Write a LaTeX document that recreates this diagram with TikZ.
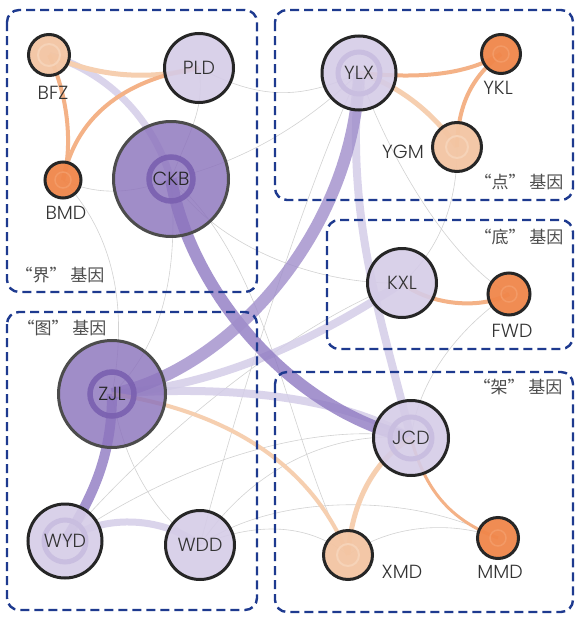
\documentclass[tikz,border=0pt]{standalone}
\usepackage{fontspec}
\newfontfamily\labfont{Poppins Light}
\newfontfamily\cjkfont{Noto Sans CJK SC}
\pgfdeclarelayer{bglayer}
\pgfdeclarelayer{edgelayer}
\pgfsetlayers{bglayer,edgelayer,main}
\definecolor{lav}{HTML}{D5CCE7}
\definecolor{purp}{HTML}{8C74BD}
\definecolor{purpring}{HTML}{7A60B0}
\definecolor{lavring}{HTML}{C9BEE0}
\definecolor{peach}{HTML}{F3C5A3}
\definecolor{peachring}{HTML}{F6D3B8}
\definecolor{orng}{HTML}{F0864A}
\definecolor{orngring}{HTML}{F39A66}
\definecolor{navy}{HTML}{1E3A8F}
\definecolor{edgep}{HTML}{8F7AC2}
\definecolor{edgepale}{HTML}{D4CDE8}
\definecolor{edgeor}{HTML}{F4B287}
\definecolor{edgepe}{HTML}{F6CFB0}
\definecolor{thinc}{HTML}{D2D2D2}
\definecolor{txt}{HTML}{333333}
\begin{document}
\begin{tikzpicture}[x=1pt,y=-1pt,
  nbase/.style={circle,inner sep=0pt,line width=3pt,text opacity=1,text=txt,
    font=\labfont\fontsize{19}{19}\selectfont},
  nlight/.style={nbase,draw=black!85,fill=lav,fill opacity=0.9},
  nlightring/.style={nlight,path picture={\draw[lavring,line width=5pt]
    (path picture bounding box.center) circle (21pt);}},
  npurple/.style={nbase,draw=black!70,fill=purp,fill opacity=0.82,text=black!85,
    path picture={\draw[purpring,line width=5.5pt,opacity=0.9]
    (path picture bounding box.center) circle (22pt);}},
  npeach/.style={nbase,draw=black!85,fill=peach,fill opacity=0.95,
    path picture={\draw[peachring,line width=2pt]
    (path picture bounding box.center) circle (11pt);}},
  norange/.style={nbase,draw=black!85,fill=orng,fill opacity=0.95,
    path picture={\draw[orngring,line width=1.5pt]
    (path picture bounding box.center) circle (8pt);}},
  tlab/.style={inner sep=0pt,text=txt,font=\labfont\fontsize{19}{19}\selectfont},
  glab/.style={inner sep=0pt,text=black!70,font=\cjkfont\fontsize{17}{17}\selectfont},
  gbox/.style={draw=navy,line width=2.4pt,dash pattern=on 9pt off 5pt,rounded corners=12pt},
  ethickp/.style={draw=edgep,line width=12pt,opacity=0.8},
  epale/.style={draw=edgepale,line width=8pt,opacity=0.85},
  eorange/.style={draw=edgeor,line width=4pt},
  epeach/.style={draw=edgepe,line width=5pt},
  ethin/.style={draw=thinc,line width=0.6pt}
]
\begin{pgfonlayer}{bglayer}
\fill[white] (0,0) rectangle (588,621);
\end{pgfonlayer}
\useasboundingbox (0,0) rectangle (588,621);

% group boxes
\draw[gbox] (7,10) rectangle (257,292);
\draw[gbox] (275,10) rectangle (573,200);
\draw[gbox] (327,220) rectangle (573,349);
\draw[gbox] (7,312) rectangle (257,610);
\draw[gbox] (275,372) rectangle (573,612);

% group labels
\node[glab] (gjie) at (60,275) {“界” 基因};
\node[glab] (gdian) at (519,182) {“点” 基因};
\node[glab] (gdi) at (519,237) {“底” 基因};
\node[glab] (gtu) at (62,328) {“图” 基因};
\node[glab] (gjia) at (518,387) {“架” 基因};

% nodes
\node[npeach,minimum size=41pt] (BFZ) at (49,55) {};
\node[nlight,minimum size=69pt] (PLD) at (199,68) {PLD};
\node[norange,minimum size=36pt] (BMD) at (63,180) {};
\node[npurple,minimum size=115pt] (CKB) at (171,179) {CKB};
\node[nlightring,minimum size=74pt] (YLX) at (359,73) {YLX};
\node[norange,minimum size=39pt] (YKL) at (501,54) {};
\node[npeach,minimum size=49pt] (YGM) at (457,147) {};
\node[nlight,minimum size=69pt] (KXL) at (402,283) {KXL};
\node[norange,minimum size=42pt] (FWD) at (509,294) {};
\node[npurple,minimum size=107pt] (ZJL) at (112,394) {ZJL};
\node[nlightring,minimum size=74pt] (WYD) at (65,541) {WYD};
\node[nlight,minimum size=69pt] (WDD) at (200,545) {WDD};
\node[nlightring,minimum size=75pt] (JCD) at (411,438) {JCD};
\node[npeach,minimum size=49pt] (XMD) at (348,555) {};
\node[norange,minimum size=41pt] (MMD) at (498,538) {};

% outside labels
\node[tlab] (lBFZ) at (53,93) {BFZ};
\node[tlab] (lBMD) at (66,213) {BMD};
\node[tlab] (lYKL) at (498,88) {YKL};
\node[tlab] (lYGM) at (403,152) {YGM};
\node[tlab] (lFWD) at (512,331) {FWD};
\node[tlab] (lXMD) at (402,572) {XMD};
\node[tlab] (lMMD) at (500,572) {MMD};

\begin{pgfonlayer}{edgelayer}
% thin grey links
\draw[ethin] (PLD.center) .. controls (260,100) and (300,100) .. (YLX.center);
\draw[ethin] (CKB.center) .. controls (250,160) and (310,120) .. (YLX.center);
\draw[ethin] (CKB.center) .. controls (220,250) and (320,285) .. (KXL.center);
\draw[ethin] (PLD.center) .. controls (205,110) and (190,130) .. (CKB.center);
\draw[ethin] (BMD.center) .. controls (95,195) and (130,195) .. (CKB.center);
\draw[ethin] (BMD.center) .. controls (110,230) and (130,300) .. (ZJL.center);
\draw[ethin] (CKB.center) .. controls (178,260) and (168,340) .. (ZJL.center);
\draw[ethin] (YLX.center) .. controls (300,200) and (230,430) .. (WDD.center);
\draw[ethin] (YLX.center) .. controls (390,160) and (450,260) .. (FWD.center);
\draw[ethin] (YGM.center) .. controls (458,200) and (440,250) .. (KXL.center);
\draw[ethin] (FWD.center) .. controls (470,320) and (420,370) .. (JCD.center);
\draw[ethin] (WYD.center) .. controls (180,460) and (320,420) .. (JCD.center);
\draw[ethin] (WYD.center) .. controls (160,430) and (300,320) .. (KXL.center);
\draw[ethin] (WDD.center) .. controls (250,470) and (330,430) .. (JCD.center);
\draw[ethin] (WDD.center) .. controls (280,490) and (420,495) .. (MMD.center);
\draw[ethin] (WDD.center) .. controls (260,520) and (310,525) .. (XMD.center);
\draw[ethin] (XMD.center) .. controls (390,525) and (450,520) .. (MMD.center);
\draw[ethin] (ZJL.center) .. controls (125,470) and (160,520) .. (WDD.center);
\draw[ethin] (CKB.center) .. controls (270,260) and (290,450) .. (XMD.center);
% pale lavender links
\draw[epale] (ZJL.center) .. controls (230,385) and (330,330) .. (KXL.center);
\draw[epale] (ZJL.center) .. controls (220,385) and (340,395) .. (JCD.center);
\draw[epale] (YLX.center) .. controls (345,220) and (382,320) .. (JCD.center);
\draw[epale,line width=7pt] (BFZ.center) .. controls (100,70) and (150,110) .. (CKB.center);
\draw[epale,line width=7pt] (WYD.center) .. controls (100,515) and (160,515) .. (WDD.center);
% strong purple links
\draw[ethickp] (CKB.center) .. controls (190,290) and (290,410) .. (JCD.center);
\draw[ethickp,draw=edgep!85] (ZJL.center) .. controls (230,370) and (355,230) .. (YLX.center);
\draw[ethickp,line width=10pt] (ZJL.center) .. controls (112,460) and (90,500) .. (WYD.center);
% orange / peach links
\draw[epeach] (BFZ.center) .. controls (100,78) and (150,80) .. (PLD.center);
\draw[eorange] (BFZ.center) .. controls (70,100) and (72,150) .. (BMD.center);
\draw[eorange] (BMD.center) .. controls (75,120) and (120,80) .. (PLD.center);
\draw[eorange] (YLX.center) .. controls (430,80) and (470,72) .. (YKL.center);
\draw[epeach] (YLX.center) .. controls (400,85) and (435,115) .. (YGM.center);
\draw[eorange] (YKL.center) .. controls (475,75) and (458,100) .. (YGM.center);
\draw[eorange] (KXL.center) .. controls (430,305) and (480,310) .. (FWD.center);
\draw[epeach,line width=4pt] (ZJL.center) .. controls (220,410) and (310,460) .. (XMD.center);
\draw[epeach] (JCD.center) .. controls (375,460) and (352,500) .. (XMD.center);
\draw[eorange,line width=3pt] (JCD.center) .. controls (425,490) and (450,520) .. (MMD.center);
\end{pgfonlayer}
\end{tikzpicture}
\end{document}
